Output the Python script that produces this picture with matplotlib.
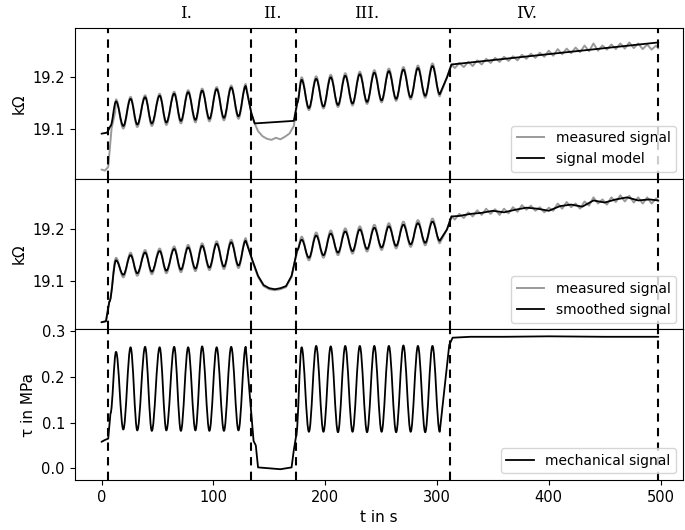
import matplotlib
matplotlib.use("Agg")
import matplotlib.pyplot as plt
from matplotlib.path import Path
from matplotlib.patches import PathPatch

# --- data ---
vlines = [6, 134, 174, 312, 498]
region_labels = ["I.", "II.", "III.", "IV."]
region_label_t = [76, 153, 237, 380]

peak_t_I = [13, 26, 39, 52, 65, 77.5, 90, 103, 116, 129]
trough_t_I = [19.5, 32, 45, 58, 71, 84, 96.5, 109.5, 122.5]
peak_t_III = [179, 192, 205, 218, 231, 244, 257, 270, 283, 296]
trough_t_III = [185.5, 198.5, 211.5, 224.5, 237.5, 250.5, 263.5, 276.5, 289.5, 302.5]

# top panel: signal model
model_peak_I = [19.153, 19.158, 19.161, 19.164, 19.168, 19.171, 19.174, 19.177, 19.180, 19.183]
model_trough_I = [19.105, 19.108, 19.110, 19.112, 19.115, 19.117, 19.119, 19.121, 19.124]
model_peak_III = [19.195, 19.197, 19.200, 19.203, 19.206, 19.209, 19.212, 19.215, 19.218, 19.222]
model_trough_III = [19.140, 19.143, 19.146, 19.149, 19.152, 19.155, 19.158, 19.161, 19.164, 19.167]
model_pre_t = [0, 5, 8]
model_pre_v = [19.090, 19.092, 19.105]
model_II_t = [134, 137, 172, 175]
model_II_v = [19.130, 19.110, 19.115, 19.150]
model_IV_t = [309, 313, 498]
model_IV_v = [19.200, 19.225, 19.268]

# top panel: measured signal
meas_pre_t = [0, 3, 6, 9, 12]
meas_pre_v = [19.020, 19.018, 19.025, 19.100, 19.130]
meas_II_t = [134, 137, 140, 144, 148, 152, 156, 160, 164, 168, 172, 175]
meas_II_v = [19.130, 19.110, 19.095, 19.085, 19.080, 19.078, 19.082, 19.079, 19.084, 19.090, 19.105, 19.150]
meas_IV_t = [309, 313, 316, 320, 324, 328, 332, 336, 340, 344, 348, 352, 356, 360, 364, 368, 372,
             376, 380, 384, 388, 392, 396, 400, 404, 408, 412, 416, 420, 424, 428, 432, 436, 440,
             444, 448, 452, 456, 460, 464, 468, 472, 476, 480, 484, 488, 492, 496, 498]
meas_IV_v = [19.200, 19.225, 19.218, 19.228, 19.220, 19.230, 19.222, 19.233, 19.225, 19.236, 19.228,
             19.238, 19.230, 19.240, 19.232, 19.241, 19.233, 19.244, 19.236, 19.246, 19.238, 19.248,
             19.240, 19.252, 19.242, 19.255, 19.245, 19.256, 19.247, 19.258, 19.249, 19.262, 19.251,
             19.266, 19.252, 19.262, 19.254, 19.264, 19.255, 19.266, 19.256, 19.268, 19.257, 19.266,
             19.255, 19.264, 19.254, 19.262, 19.256]

# middle panel: smoothed signal
sm_peak_I = [19.140, 19.150, 19.155, 19.158, 19.162, 19.165, 19.168, 19.172, 19.175, 19.178]
sm_trough_I = [19.112, 19.115, 19.118, 19.120, 19.122, 19.124, 19.126, 19.128, 19.130]
sm_peak_III = [19.180, 19.188, 19.192, 19.196, 19.200, 19.203, 19.206, 19.209, 19.212, 19.215]
sm_trough_III = [19.145, 19.150, 19.155, 19.158, 19.162, 19.165, 19.168, 19.171, 19.174, 19.178]
sm_pre_t = [0, 4, 7]
sm_pre_v = [19.020, 19.022, 19.060]
sm_II_t = [135, 140, 145, 150, 155, 160, 165, 170, 175]
sm_II_v = [19.140, 19.110, 19.092, 19.086, 19.084, 19.086, 19.090, 19.110, 19.160]
sm_IV_t = [309, 313, 320, 330, 340, 350, 360, 370, 380, 390, 400, 410, 420, 430, 440,
           450, 460, 470, 480, 490, 498]
sm_IV_v = [19.200, 19.225, 19.226, 19.230, 19.232, 19.236, 19.233, 19.238, 19.242, 19.240,
           19.236, 19.245, 19.248, 19.244, 19.256, 19.252, 19.258, 19.262, 19.256, 19.258, 19.256]
msm_IV_t = meas_IV_t
msm_IV_v = [19.200, 19.225, 19.219, 19.230, 19.222, 19.233, 19.225, 19.237, 19.228, 19.240, 19.230,
            19.239, 19.228, 19.240, 19.231, 19.243, 19.234, 19.247, 19.238, 19.246, 19.236, 19.243,
            19.233, 19.242, 19.236, 19.250, 19.240, 19.253, 19.243, 19.250, 19.240, 19.254, 19.246,
            19.262, 19.250, 19.258, 19.248, 19.262, 19.253, 19.266, 19.254, 19.265, 19.252, 19.262,
            19.250, 19.262, 19.250, 19.260, 19.254]

# bottom panel: mechanical signal
mech_peak_I = [0.255, 0.265, 0.266, 0.265, 0.266, 0.265, 0.267, 0.265, 0.266, 0.266]
mech_trough_I = [0.085, 0.083, 0.082, 0.083, 0.082, 0.083, 0.082, 0.082, 0.083]
mech_peak_III = [0.265, 0.268, 0.267, 0.268, 0.268, 0.268, 0.268, 0.269, 0.268, 0.268]
mech_trough_III = [0.080, 0.080, 0.079, 0.080, 0.079, 0.080, 0.079, 0.080, 0.079, 0.080]
mech_pre_t = [0, 3, 6, 8]
mech_pre_v = [0.058, 0.062, 0.065, 0.120]
mech_II_t = [136, 138, 140, 150, 160, 170, 172, 174]
mech_II_v = [0.060, 0.050, 0.002, 0.000, -0.002, 0.002, 0.040, 0.070]
mech_IV_t = [311, 314, 330, 360, 400, 450, 498]
mech_IV_v = [0.270, 0.286, 0.288, 0.288, 0.289, 0.288, 0.288]


def osc(pt, pv, tt, tv):
    pts = sorted(list(zip(pt, pv)) + list(zip(tt, tv)))
    return [p[0] for p in pts], [p[1] for p in pts]


def make_path(pre_t, pre_v, pI, tI, mid_t, mid_v, pIII, tIII, post_t, post_v):
    """Lines for plain stretches; smooth Bezier curves between oscillation extrema."""
    verts, codes = [], []

    def lines(ts, vs):
        for t, v in zip(ts, vs):
            verts.append((t, v))
            codes.append(Path.MOVETO if not codes else Path.LINETO)

    def curves(ts, vs):
        for t, v in zip(ts, vs):
            if not codes:
                verts.append((t, v)); codes.append(Path.MOVETO); continue
            t0, v0 = verts[-1]
            d = 0.36 * (t - t0)
            verts.extend([(t0 + d, v0), (t - d, v), (t, v)])
            codes.extend([Path.CURVE4] * 3)

    lines(pre_t, pre_v)
    curves(*osc(peak_t_I, pI, trough_t_I, tI))
    lines(mid_t, mid_v)
    curves(*osc(peak_t_III, pIII, trough_t_III, tIII))
    lines(post_t, post_v)
    return Path(verts, codes)


def draw(ax, path, color, lw, label):
    ax.add_patch(PathPatch(path, fill=False, edgecolor=color, lw=lw, capstyle="round",
                           joinstyle="round"))
    ax.plot([], [], color=color, lw=lw, label=label)


def shift(vals, d):
    return [v + d for v in vals]


fig = plt.figure(figsize=(6.85, 5.3), dpi=100)
axes = fig.subplots(3, 1, sharex=True, gridspec_kw=dict(hspace=0))
fig.subplots_adjust(left=0.109, right=0.997, top=0.947, bottom=0.094)
GRAY = "#9a9a9a"

# top
ax = axes[0]
draw(ax, make_path(meas_pre_t, meas_pre_v, shift(model_peak_I, 0.004), shift(model_trough_I, -0.005),
                   meas_II_t, meas_II_v, shift(model_peak_III, 0.005), shift(model_trough_III, -0.004),
                   meas_IV_t, meas_IV_v), GRAY, 1.4, "measured signal")
draw(ax, make_path(model_pre_t, model_pre_v, model_peak_I, model_trough_I, model_II_t, model_II_v,
                   model_peak_III, model_trough_III, model_IV_t, model_IV_v), "black", 1.3, "signal model")
ax.set_ylim(19.002, 19.296)
ax.set_yticks([19.1, 19.2])
ax.set_ylabel("kΩ")

# middle
ax = axes[1]
draw(ax, make_path(sm_pre_t, sm_pre_v, shift(sm_peak_I, 0.005), shift(sm_trough_I, -0.005),
                   sm_II_t, shift(sm_II_v, -0.002), shift(sm_peak_III, 0.006), shift(sm_trough_III, -0.005),
                   msm_IV_t, msm_IV_v), GRAY, 1.4, "measured signal")
draw(ax, make_path(sm_pre_t, sm_pre_v, sm_peak_I, sm_trough_I, sm_II_t, sm_II_v,
                   sm_peak_III, sm_trough_III, sm_IV_t, sm_IV_v), "black", 1.3, "smoothed signal")
ax.set_ylim(19.006, 19.298)
ax.set_yticks([19.1, 19.2])
ax.set_ylabel("kΩ")

# bottom
ax = axes[2]
draw(ax, make_path(mech_pre_t, mech_pre_v, mech_peak_I, mech_trough_I, mech_II_t, mech_II_v,
                   mech_peak_III, mech_trough_III, mech_IV_t, mech_IV_v), "black", 1.3, "mechanical signal")
ax.set_ylim(-0.026, 0.304)
ax.set_yticks([0.0, 0.1, 0.2, 0.3])
ax.set_ylabel("τ in MPa")
ax.set_xlim(-24, 520)
ax.set_xticks([0, 100, 200, 300, 400, 500])
ax.set_xlabel("t in s", fontsize=11)

for ax in axes:
    for x in vlines:
        ax.axvline(x, color="black", ls="--", lw=1.5, dashes=(4, 3))
    ax.legend(loc="lower right", fontsize=10, borderaxespad=0.5)
    ax.tick_params(labelsize=10.5)
    ax.yaxis.label.set_size(11)

for lab, t in zip(region_labels, region_label_t):
    axes[0].text(t, 1.04, lab, transform=axes[0].get_xaxis_transform(), ha="center",
                 va="bottom", fontsize=12, family="DejaVu Serif")

fig.savefig("out.png", dpi=100)
